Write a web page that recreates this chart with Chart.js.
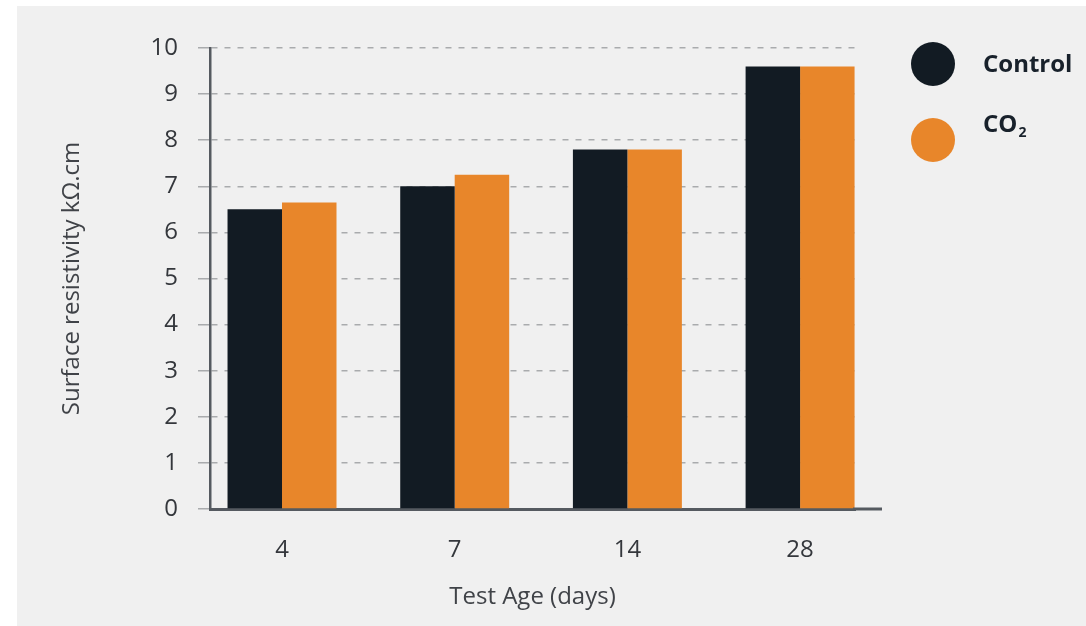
<!DOCTYPE html>
<html>
<head>
<meta charset="utf-8">
<script src="https://cdn.jsdelivr.net/npm/chart.js@4/dist/chart.umd.min.js"></script>
<style>
  html, body { margin: 0; padding: 0; background: #ffffff; }
  #bg { position: absolute; left: 17px; top: 6px; right: 0; bottom: 0; background: #f0f0f0; }
  #wrap { position: absolute; left: 0; top: 0; width: 1086px; height: 626px; }
</style>
</head>
<body>
<div id="bg"></div>
<div id="wrap"><canvas id="chart"></canvas></div>
<script>
// data
const categories = ["4", "7", "14", "28"];
const controlValues = [6.5, 7.0, 7.8, 9.6];
const co2Values = [6.65, 7.25, 7.8, 9.6];
const yTicks = [0, 1, 2, 3, 4, 5, 6, 7, 8, 9, 10];

const FONT = "'Open Sans', 'Noto Sans', sans-serif";

// legend drawn at the right, like the original
const sideLegend = {
    id: "sideLegend",
    afterDraw(chart) {
        const ctx = chart.ctx;
        const rows = [
            { cy: 64, ty: 65 },
            { cy: 140, ty: 125 },
        ];
        chart.data.datasets.forEach(function (ds, i) {
            const r = rows[i];
            ctx.save();
            ctx.beginPath();
            ctx.arc(933, r.cy, 22, 0, Math.PI * 2);
            ctx.fillStyle = ds.backgroundColor;
            ctx.fill();
            ctx.fillStyle = "#18212b";
            ctx.textBaseline = "middle";
            ctx.textAlign = "left";
            const parts = ds.label.split("₂");
            ctx.font = "bold 24px " + FONT;
            ctx.fillText(parts[0], 983, r.ty);
            if (parts.length > 1) {
                const w = ctx.measureText(parts[0]).width;
                ctx.font = "bold 14px " + FONT;
                ctx.fillText("2", 983 + w + 1, r.ty + 8);
            }
            ctx.restore();
        });
    },
};

// the x axis line runs a bit past the last bar
const longBaseline = {
    id: "longBaseline",
    afterDraw(chart) {
        const a = chart.chartArea;
        const ctx = chart.ctx;
        ctx.save();
        ctx.strokeStyle = "#555a60";
        ctx.lineWidth = 3;
        ctx.beginPath();
        ctx.moveTo(a.right - 2, a.bottom);
        ctx.lineTo(a.right + 27, a.bottom);
        ctx.stroke();
        ctx.restore();
    },
};

new Chart(document.getElementById("chart"), {
    type: "bar",
    data: {
        datasets: [
            {
                label: "Control",
                data: controlValues.map((v, i) => ({ x: i, y: v })),
                backgroundColor: "#121b23",
            },
            {
                label: "CO₂",
                data: co2Values.map((v, i) => ({ x: i, y: v })),
                backgroundColor: "#e8862a",
            },
        ],
    },
    options: {
        responsive: true,
        maintainAspectRatio: false,
        animation: false,
        categoryPercentage: 0.631,
        barPercentage: 1,
        layout: { padding: { top: 48, right: 231, left: 0, bottom: 0 } },
        plugins: {
            legend: { display: false },
            tooltip: { enabled: false },
        },
        scales: {
            x: {
                type: "linear",
                offset: false,
                min: -0.417,
                max: 3.318,
                afterBuildTicks: function (scale) {
                    scale.ticks = categories.map((c, i) => ({ value: i }));
                },
                afterFit: function (scale) {
                    scale.height = 117;
                },
                grid: { display: false, drawTicks: false, offset: false },
                border: { display: true, color: "#555a60", width: 3 },
                ticks: {
                    callback: (v) => categories[v],
                    color: "#34373c",
                    font: { family: FONT, size: 24 },
                    padding: 27,
                    maxRotation: 0,
                },
                title: {
                    display: true,
                    text: "Test Age (days)",
                    color: "#404348",
                    font: { family: FONT, size: 24 },
                    padding: { top: 0, bottom: 14 },
                },
            },
            y: {
                min: 0,
                max: 10,
                afterBuildTicks: function (scale) {
                    scale.ticks = yTicks.map((v) => ({ value: v }));
                },
                afterFit: function (scale) {
                    scale.width = 210;
                },
                grid: {
                    color: "#a9abad",
                    lineWidth: 1.5,
                    tickLength: 12,
                    tickColor: "#a9abad",
                    tickWidth: 1.5,
                },
                border: { display: true, color: "#555a60", width: 2.5, dash: [6, 7] },
                ticks: {
                    color: "#34373c",
                    font: { family: FONT, size: 24 },
                    padding: 20,
                },
                title: {
                    display: true,
                    text: "Surface resistivity kΩ.cm",
                    color: "#404348",
                    font: { family: FONT, size: 24 },
                    padding: { top: 58, bottom: 0 },
                },
            },
        },
    },
    plugins: [sideLegend, longBaseline],
});
</script>
</body>
</html>
